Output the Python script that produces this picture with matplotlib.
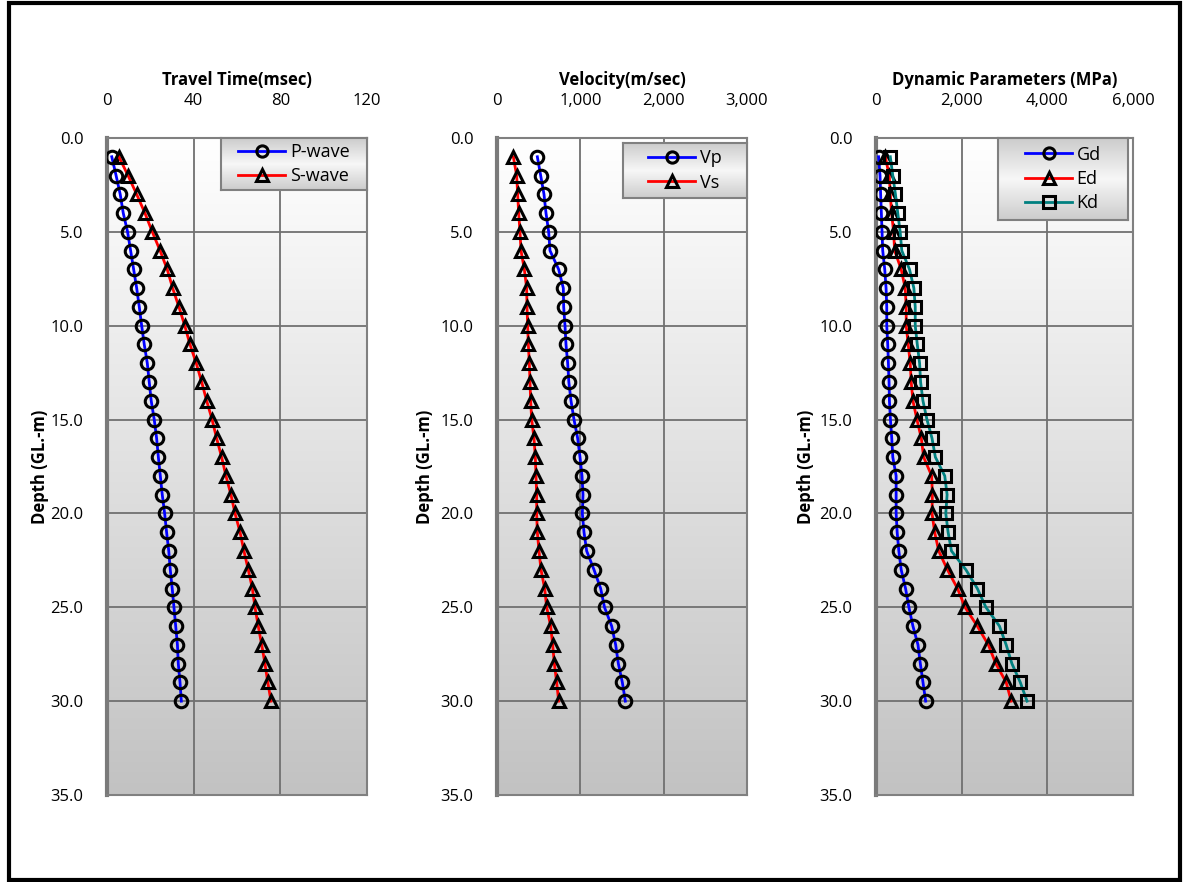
import matplotlib
matplotlib.use("Agg")
import matplotlib.pyplot as plt
import numpy as np
from matplotlib.patches import Rectangle
from matplotlib.colors import LinearSegmentedColormap

plt.rcParams['font.family'] = ['Open Sans', 'DejaVu Sans']

depth = [1, 2, 3, 4, 5, 6, 7, 8, 9, 10, 11, 12, 13, 14, 15,
         16, 17, 18, 19, 20, 21, 22, 23, 24, 25, 26, 27, 28, 29, 30]

p_wave = [2.2, 4.2, 6.1, 7.5, 9.5, 10.9, 12.3, 13.7, 14.9, 16.0, 17.2, 18.6, 19.5, 20.4, 21.8,
          22.9, 23.7, 24.6, 25.5, 26.6, 27.5, 28.5, 29.2, 30.1, 30.9, 31.7, 32.5, 32.9, 33.7, 34.3]
s_wave = [5.5, 9.7, 13.7, 17.5, 20.9, 24.5, 27.8, 30.3, 33.2, 35.9, 38.3, 41.2, 43.7, 46.0, 48.5,
          50.6, 52.9, 54.9, 57.2, 59.1, 61.4, 63.2, 65.2, 67.1, 68.3, 69.8, 71.4, 72.9, 74.2, 75.7]

vp = [484, 524, 564, 588, 620, 636, 740, 796, 800, 816, 828, 848, 862, 888, 924,
      968, 996, 1020, 1032, 1024, 1044, 1076, 1164, 1244, 1290, 1376, 1424, 1456, 1504, 1540]
vs = [196, 236, 248, 260, 276, 288, 328, 356, 360, 368, 376, 388, 396, 404, 416,
      444, 460, 468, 476, 476, 484, 504, 528, 572, 596, 644, 668, 688, 716, 740]

gd = [60, 94, 108, 125, 141, 157, 204, 235, 251, 251, 274, 290, 305, 313, 337,
      368, 392, 470, 470, 470, 494, 533, 588, 690, 768, 862, 980, 1035, 1097, 1159]
ed = [216, 310, 334, 364, 411, 435, 588, 682, 705, 705, 752, 799, 822, 862, 956,
      1058, 1112, 1300, 1316, 1308, 1370, 1464, 1668, 1903, 2078, 2364, 2623, 2797, 3039, 3157]
kd = [334, 392, 454, 508, 564, 602, 783, 884, 916, 916, 964, 1018, 1041, 1096, 1190,
      1308, 1386, 1605, 1660, 1629, 1683, 1762, 2099, 2366, 2566, 2882, 3039, 3173, 3369, 3526]

y_ticks = [0, 5, 10, 15, 20, 25, 30, 35]
x1_ticks = [0, 40, 80, 120]
x2_ticks = [0, 1000, 2000, 3000]
x3_ticks = [0, 2000, 4000, 6000]

W, H = 1183, 882
fig = plt.figure(figsize=(W / 100, H / 100), dpi=100)
fig.patch.set_facecolor('white')

# outer frame
fig.add_artist(Rectangle((9 / W, 2 / H), (W - 12) / W, (H - 5) / H, transform=fig.transFigure,
                         fill=False, edgecolor='black', linewidth=3))

grad_cmap = LinearSegmentedColormap.from_list('bg', ['#ffffff', '#c2c2c2'])
leg_cmap = LinearSegmentedColormap.from_list('lg', ['#cccccc', '#f7f7f7', '#cccccc'])
grad = np.linspace(0, 1, 256).reshape(-1, 1)

panels = [
    dict(left=107, right=367, xlim=(0, 120), xticks=x1_ticks, fmt='{:.0f}',
         title='Travel Time(msec)',
         series=[(p_wave, 'P-wave', 'blue', 'o'), (s_wave, 'S-wave', 'red', '^')],
         leg=(221, 138, 367, 190), ylab_x=40),
    dict(left=497, right=747, xlim=(0, 3000), xticks=x2_ticks, fmt='{:,.0f}',
         title='Velocity(m/sec)',
         series=[(vp, 'Vp', 'blue', 'o'), (vs, 'Vs', 'red', '^')],
         leg=(623, 143, 747, 198), ylab_x=425),
    dict(left=876, right=1133, xlim=(0, 6000), xticks=x3_ticks, fmt='{:,.0f}',
         title='Dynamic Parameters (MPa)',
         series=[(gd, 'Gd', 'blue', 'o'), (ed, 'Ed', 'red', '^'), (kd, 'Kd', '#008080', 's')],
         leg=(998, 138, 1128, 220), ylab_x=806),
]

top, bottom = 138, 795
for p in panels:
    ax = fig.add_axes([p['left'] / W, 1 - bottom / H, (p['right'] - p['left']) / W, (bottom - top) / H])
    ax.imshow(grad, extent=[0, 1, 0, 1], transform=ax.transAxes, aspect='auto',
              cmap=grad_cmap, zorder=-1)
    ax.set_xlim(*p['xlim'])
    ax.set_ylim(35, 0)
    ax.set_xticks(p['xticks'])
    ax.set_xticklabels([p['fmt'].format(v) for v in p['xticks']])
    ax.set_yticks(y_ticks)
    ax.set_yticklabels(['{:.1f}'.format(v) for v in y_ticks])
    ax.xaxis.tick_top()
    ax.tick_params(axis='x', length=0, pad=21, labelsize=12)
    ax.tick_params(axis='y', length=0, pad=17, labelsize=12)
    ax.grid(True, color='#707070', linewidth=1.3)
    ax.set_axisbelow(True)
    for side, sp in ax.spines.items():
        sp.set_color('#808080')
        sp.set_linewidth(1.5)
    ax.spines['left'].set_linewidth(3)
    ax.spines['left'].set_color('#7a7a7a')
    handles = []
    for vals, lab, col, mk in p['series']:
        h, = ax.plot(vals, depth, color=col, linewidth=2, marker=mk, markersize=9,
                     markerfacecolor='none', markeredgecolor='black', markeredgewidth=2.2,
                     label=lab, zorder=3)
        handles.append(h)
    cx = (p['left'] + p['right']) / 2
    fig.text(cx / W, 1 - 80 / H, p['title'], fontsize=12, fontweight='bold',
             ha='center', va='center')
    fig.text(p['ylab_x'] / W, 1 - (top + bottom) / 2 / H, 'Depth (GL.-m)', rotation=90,
             fontsize=12, fontweight='bold', ha='center', va='center')

    # legend box with gradient
    lx0, ly0, lx1, ly1 = p['leg']
    lax = fig.add_axes([lx0 / W, 1 - ly1 / H, (lx1 - lx0) / W, (ly1 - ly0) / H])
    lax.imshow(grad, extent=[0, 1, 0, 1], transform=lax.transAxes, aspect='auto',
               cmap=leg_cmap, zorder=-1)
    lax.set_xlim(0, 1)
    lax.set_ylim(0, 1)
    lax.set_xticks([])
    lax.set_yticks([])
    for sp in lax.spines.values():
        sp.set_color('#808080')
        sp.set_linewidth(1.5)
    lax.legend(handles=handles, loc='center', frameon=False, fontsize=13,
               handlelength=2.6, handletextpad=0.25, borderpad=0.2, labelspacing=0.35,
               markerscale=0.9)

fig.savefig('out.png', dpi=100)
